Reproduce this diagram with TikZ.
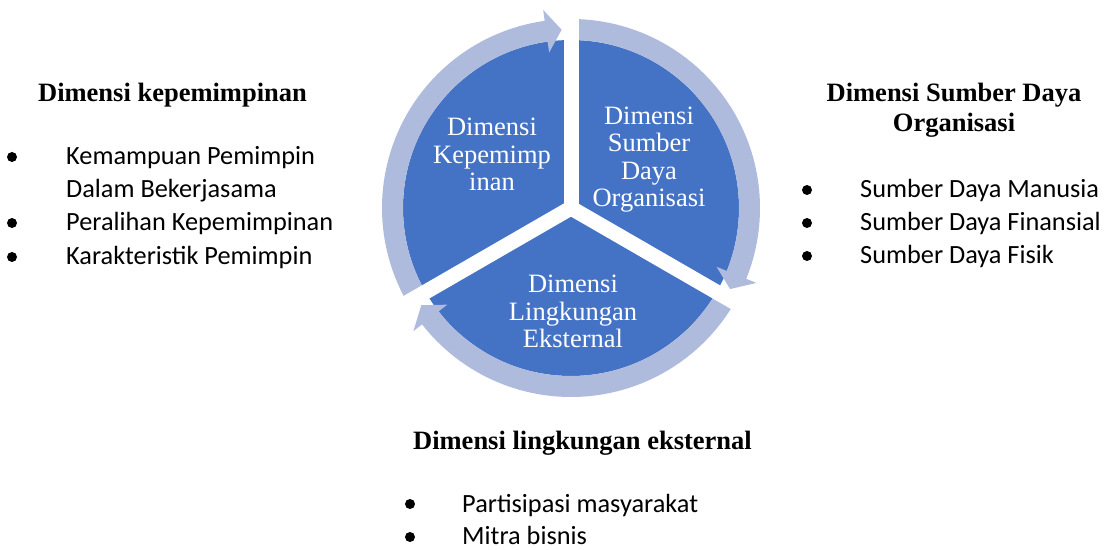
\documentclass[tikz,border=0pt]{standalone}
\usepackage{fontspec}
\setmainfont{Liberation Serif}
\newfontfamily\bodyfont{Carlito}
\usetikzlibrary{calc}

\definecolor{pieblue}{RGB}{68,114,196}
\definecolor{ringblue}{RGB}{175,187,221}

\tikzset{
  heading/.style={font=\fontsize{26.5}{30}\selectfont\bfseries, align=center, inner sep=0pt, anchor=base},
  item/.style={font=\bodyfont\fontsize{26.3}{33.3}\selectfont, align=left, inner sep=0pt, anchor=base west},
  bulletmark/.style={circle, fill=black, minimum size=10pt, inner sep=0pt},
  slice/.style={font=\fontsize{26.5}{27.5}\selectfont, text=white, align=center, inner sep=0pt, anchor=base},
  gap/.style={draw=white, line width=15pt},
  ringarrow/.style={fill=ringblue},
}

% one circular arrow segment: #1 tail angle, #2 tip angle (clockwise travel)
\newcommand{\cyclearrow}[2]{%
  \pgfmathsetmacro{\headbase}{#2+5}%
  \fill[ringarrow] ($(pie.center)+(#1:189)$)
    arc[start angle=#1, end angle=\headbase, radius=189]
    -- ($(pie.center)+(\headbase:200)$)
    -- ($(pie.center)+(#2:178.5)$)
    -- ($(pie.center)+(\headbase:157)$)
    -- ($(pie.center)+(\headbase:168)$)
    arc[start angle=\headbase, end angle=#1, radius=168]
    -- cycle;}

\begin{document}
\begin{tikzpicture}[x=1pt, y=1pt]
  \useasboundingbox (0,0) rectangle (1113,549);

  % the pie and its cycle of arrows
  \node[circle, fill=pieblue, minimum size=336pt, inner sep=0pt] (pie) at (571,341) {};
  \cyclearrow{210}{93}
  \cyclearrow{90}{-27}
  \cyclearrow{-30}{-147}
  \draw[gap] (pie.center) -- ($(pie.center)+(90:206)$) coordinate (gtop);
  \draw[gap] (pie.center) -- ($(pie.center)+(210:206)$) coordinate (gleft);
  \draw[gap] (pie.center) -- ($(pie.center)+(-30:206)$) coordinate (gright);

  % slice labels (anchored on the baseline of their last line)
  \node[slice] (lead) at (492,358) {Dimensi\\Kepemimp\\inan};
  \node[slice] (res) at (649,342) {Dimensi\\Sumber\\Daya\\Organisasi};
  \node[slice] (env) at (573,201) {Dimensi\\Lingkungan\\Eksternal};

  % left column
  \node[heading] (hleft) at (172.5,447) {Dimensi kepemimpinan};
  \node[bulletmark] (bl1) at (12,392) {};
  \node[item] (il1) at (66,351) {Kemampuan Pemimpin\\Dalam Bekerjasama};
  \node[bulletmark] (bl2) at (12,326) {};
  \node[item] (il2) at (66,318) {Peralihan Kepemimpinan};
  \node[bulletmark] (bl3) at (12,292) {};
  \node[item] (il3) at (66,284) {Karakteristik Pemimpin};

  % right column
  \node[heading] (hright) at (954,417) {Dimensi Sumber Daya\\Organisasi};
  \node[bulletmark] (br1) at (807,359) {};
  \node[item] (ir1) at (860,351) {Sumber Daya Manusia};
  \node[bulletmark] (br2) at (807,326) {};
  \node[item] (ir2) at (860,318) {Sumber Daya Finansial};
  \node[bulletmark] (br3) at (807,293) {};
  \node[item] (ir3) at (860,285) {Sumber Daya Fisik};

  % bottom column
  \node[heading] (hbottom) at (582.5,100) {Dimensi lingkungan eksternal};
  \node[bulletmark] (bb1) at (410,45) {};
  \node[item] (ib1) at (462,37) {Partisipasi masyarakat};
  \node[bulletmark] (bb2) at (410,12) {};
  \node[item] (ib2) at (462,5) {Mitra bisnis};
\end{tikzpicture}
\end{document}
